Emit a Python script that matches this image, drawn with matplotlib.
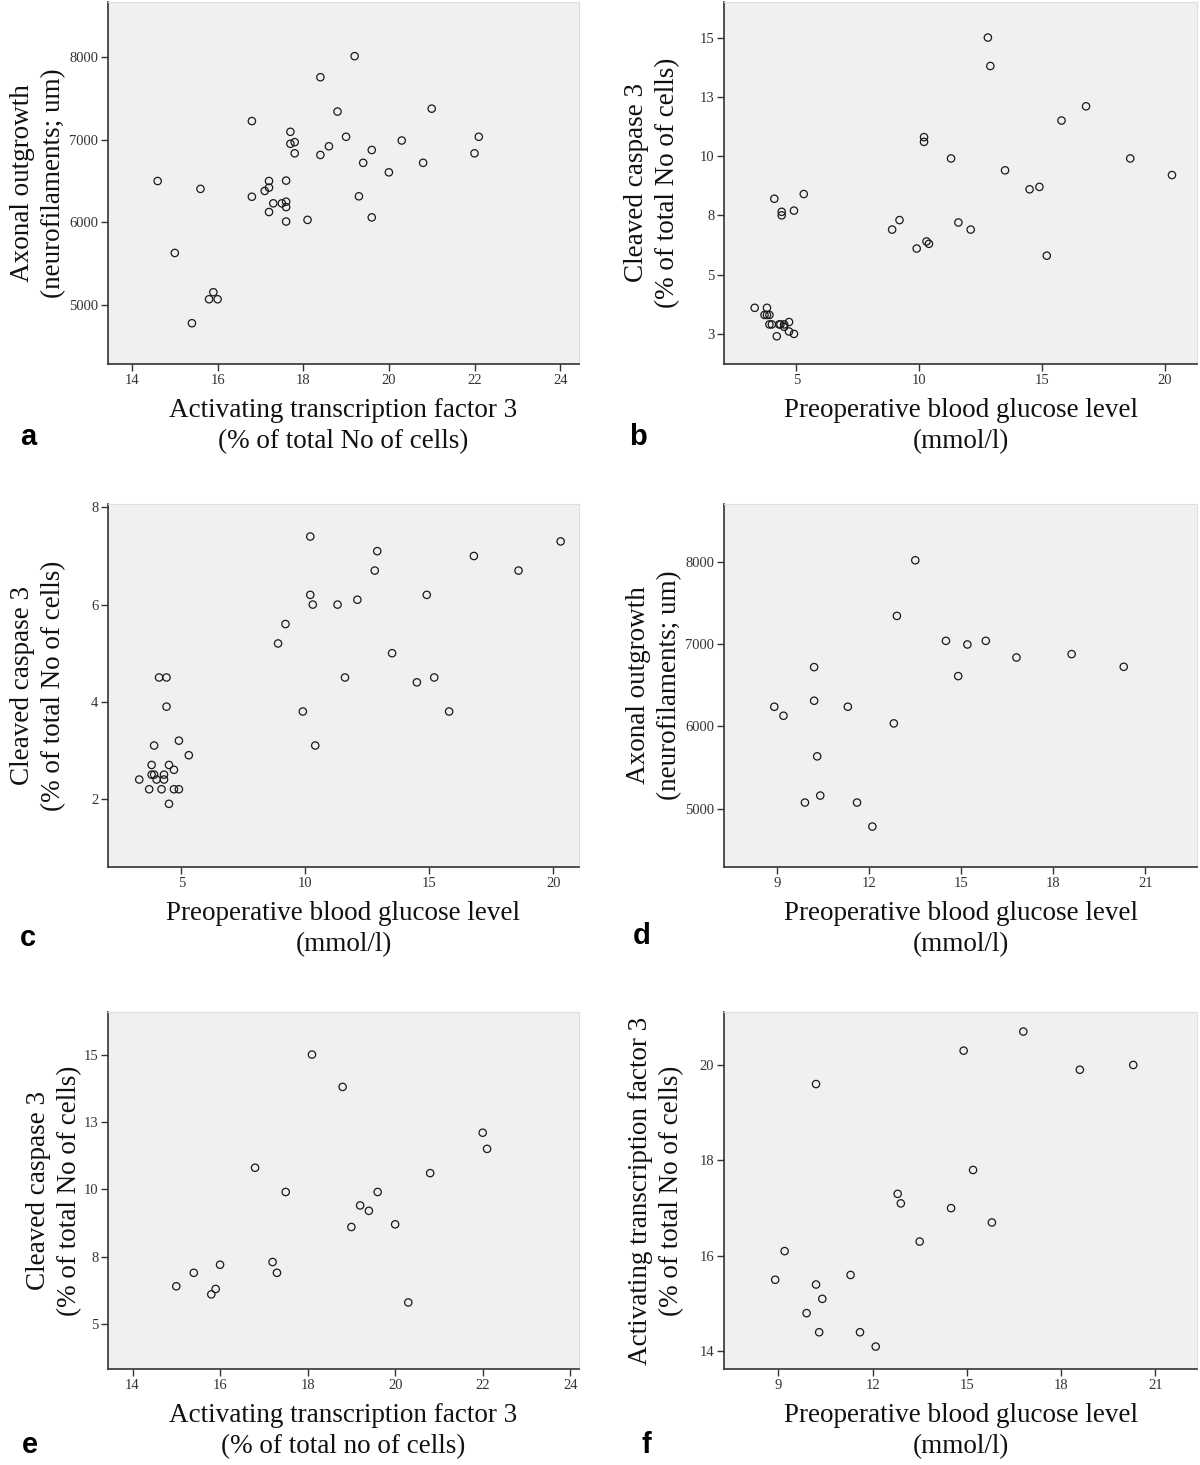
import matplotlib
matplotlib.use("Agg")
import matplotlib.pyplot as plt

# ---------------- data ----------------
# panel a: ATF3 (% of cells) vs axonal outgrowth
atf3_a = [14.6, 15.0, 15.6, 15.4, 15.9, 15.8, 16.0, 16.8, 16.8, 17.1,
          17.2, 17.2, 17.3, 17.2, 17.5, 17.6, 17.6, 17.6, 17.6, 17.7,
          17.7, 17.8, 17.8, 18.1, 18.4, 18.4, 18.6, 18.8, 19.0, 19.2,
          19.3, 19.4, 19.6, 19.6, 20.0, 20.3, 20.8, 21.0, 22.0, 22.1]
axonal_a = [6500, 5630, 6405, 4780, 5155, 5070, 5070, 7225, 6310, 6380,
            6500, 6420, 6230, 6125, 6230, 6505, 6250, 6185, 6010, 7095,
            6950, 6970, 6835, 6030, 7755, 6815, 6920, 7340, 7035, 8010,
            6315, 6720, 6875, 6060, 6605, 6990, 6720, 7375, 6835, 7035]

# panel b: glucose vs cleaved caspase 3
glucose_b = [3.3, 3.8, 3.7, 3.8, 3.9, 3.9, 4.0, 4.3, 4.35, 4.5,
             4.5, 4.7, 4.7, 4.2, 4.9, 4.1, 4.4, 4.4, 4.9, 5.3,
             8.9, 9.2, 9.9, 10.2, 10.2, 10.3, 10.4, 11.3, 11.6, 12.1,
             12.8, 12.9, 13.5, 14.5, 14.9, 15.2, 15.8, 16.8, 18.6, 20.3]
caspase_b = [3.6, 3.6, 3.3, 3.3, 3.3, 2.9, 2.9, 2.9, 2.9, 2.9,
             2.8, 3.0, 2.6, 2.4, 2.5, 8.2, 7.65, 7.5, 7.7, 8.4,
             6.9, 7.3, 6.1, 10.8, 10.6, 6.4, 6.3, 9.9, 7.2, 6.9,
             15.0, 13.8, 9.4, 8.6, 8.7, 5.8, 11.5, 12.1, 9.9, 9.2]

# panel c: glucose vs cleaved caspase 3
glucose_c = [3.3, 3.7, 3.8, 3.8, 3.9, 3.9, 4.0, 4.1, 4.2, 4.3,
             4.3, 4.4, 4.4, 4.5, 4.5, 4.7, 4.7, 4.9, 4.9, 5.3,
             8.9, 9.2, 9.9, 10.2, 10.2, 10.3, 10.4, 11.3, 11.6, 12.1,
             12.8, 12.9, 13.5, 14.5, 14.9, 15.2, 15.8, 16.8, 18.6, 20.3]
caspase_c = [2.4, 2.2, 2.7, 2.5, 3.1, 2.5, 2.4, 4.5, 2.2, 2.5,
             2.4, 4.5, 3.9, 2.7, 1.9, 2.6, 2.2, 2.2, 3.2, 2.9,
             5.2, 5.6, 3.8, 7.4, 6.2, 6.0, 3.1, 6.0, 4.5, 6.1,
             6.7, 7.1, 5.0, 4.4, 6.2, 4.5, 3.8, 7.0, 6.7, 7.3]

# panel d: glucose vs axonal outgrowth
glucose_d = [8.9, 9.2, 9.9, 10.2, 10.2, 10.3, 10.4, 11.3, 11.6, 12.1,
             12.8, 12.9, 13.5, 14.5, 14.9, 15.2, 15.8, 16.8, 18.6, 20.3]
axonal_d = [6238, 6129, 5075, 6719, 6311, 5636, 5160, 6238, 5075, 4784,
            6036, 7341, 8016, 7038, 6610, 6994, 7038, 6836, 6877, 6723]

# panel e: ATF3 vs cleaved caspase 3
atf3_e = [15.0, 15.4, 15.8, 15.9, 16.0, 16.8, 17.2, 17.3, 17.5, 18.1,
          18.8, 19.0, 19.2, 19.4, 19.6, 20.0, 20.3, 20.8, 22.0, 22.1]
caspase_e = [6.4, 6.9, 6.1, 6.3, 7.2, 10.8, 7.3, 6.9, 9.9, 15.0,
             13.8, 8.6, 9.4, 9.2, 9.9, 8.7, 5.8, 10.6, 12.1, 11.5]

# panel f: glucose vs ATF3
glucose_f = [8.9, 9.2, 9.9, 10.2, 10.2, 10.3, 10.4, 11.3, 11.6, 12.1,
             12.8, 12.9, 13.5, 14.5, 14.9, 15.2, 15.8, 16.8, 18.6, 20.3]
atf3_f = [15.5, 16.1, 14.8, 19.6, 15.4, 14.4, 15.1, 15.6, 14.4, 14.1,
          17.3, 17.1, 16.3, 17.0, 20.3, 17.8, 16.7, 20.7, 19.9, 20.0]

# ticks and labels
atf3_ticks = [14, 16, 18, 20, 22, 24]
glucose_ticks_bc = [5, 10, 15, 20]
glucose_ticks_df = [9, 12, 15, 18, 21]
axonal_ticks = [5000, 6000, 7000, 8000]
caspase_ticks_b = [2.5, 5, 7.5, 10, 12.5, 15]
caspase_labels_b = ["3", "5", "8", "10", "13", "15"]
caspase_ticks_c = [2, 4, 6, 8]
caspase_ticks_e = [5, 7.5, 10, 12.5, 15]
caspase_labels_e = ["5", "8", "10", "13", "15"]
atf3_ticks_f = [14, 16, 18, 20]

lab_atf3_x = "Activating transcription factor 3\n(% of total No of cells)"
lab_atf3_x_e = "Activating transcription factor 3\n(% of total no of cells)"
lab_glu = "Preoperative blood glucose level\n(mmol/l)"
lab_axon = "Axonal outgrowth\n(neurofilaments; um)"
lab_casp = "Cleaved caspase 3\n(% of total No of cells)"
lab_atf3_y = "Activating transcription factor 3\n(% of total No of cells)"

# ---------------- figure ----------------
W, H = 1200, 1465
fig = plt.figure(figsize=(W / 100, H / 100), dpi=100)
fig.patch.set_facecolor("white")

SERIF = "Liberation Serif"
TICK_FS = 10.5
LAB_FS = 19.5
LSP = 1.3


def make_ax(box, x, y, xlim, ylim, xticks, yticks, xlabel, ylabel,
            ylab_gap=42, yticklabels=None):
    l, t, r, b = box
    ax = fig.add_axes([l / W, 1 - b / H, (r - l) / W, (b - t) / H])
    ax.set_facecolor("#f0f0f0")
    ax.scatter(x, y, s=28, facecolors="none", edgecolors="#1a1a1a",
               linewidths=0.9, zorder=3)
    ax.set_xlim(*xlim)
    ax.set_ylim(*ylim)
    ax.set_xticks(xticks)
    ax.set_yticks(yticks)
    if yticklabels is not None:
        ax.set_yticklabels(yticklabels)
    for side in ("top", "right"):
        ax.spines[side].set_color("#dedede")
        ax.spines[side].set_linewidth(0.8)
    for side in ("left", "bottom"):
        ax.spines[side].set_color("#333333")
        ax.spines[side].set_linewidth(1.2)
    ax.tick_params(axis="both", direction="out", length=5, width=1.0,
                   color="#333333", labelcolor="#333333", labelsize=TICK_FS,
                   pad=2)
    for lbl in ax.get_xticklabels() + ax.get_yticklabels():
        lbl.set_fontfamily(SERIF)
    ax.set_xlabel(xlabel, fontsize=LAB_FS, family=SERIF, color="#111111",
                  linespacing=LSP)
    ax.set_ylabel(ylabel, fontsize=LAB_FS, family=SERIF, color="#111111",
                  linespacing=LSP)
    ax.xaxis.set_label_coords(0.5, -34 / (b - t))
    ax.yaxis.set_label_coords(-ylab_gap / (r - l), 0.5)
    return ax


LC = (108, 579)
RC = (724, 1197)
R1 = (2, 364)
R2 = (504, 867)
R3 = (1012, 1369)

make_ax((LC[0], R1[0], LC[1], R1[1]), atf3_a, axonal_a,
        (13.44, 24.44), (4287, 8665), atf3_ticks, axonal_ticks,
        lab_atf3_x, lab_axon)
make_ax((RC[0], R1[0], RC[1], R1[1]), glucose_b, caspase_b,
        (2.05, 21.32), (1.23, 16.5), glucose_ticks_bc, caspase_ticks_b,
        lab_glu, lab_casp, ylab_gap=44, yticklabels=caspase_labels_b)
make_ax((LC[0], R2[0], LC[1], R2[1]), glucose_c, caspase_c,
        (2.04, 21.04), (0.6, 8.07), glucose_ticks_bc, caspase_ticks_c,
        lab_glu, lab_casp)
make_ax((RC[0], R2[0], RC[1], R2[1]), glucose_d, axonal_d,
        (7.26, 22.69), (4293, 8699), glucose_ticks_df, axonal_ticks,
        lab_glu, lab_axon)
make_ax((LC[0], R3[0], LC[1], R3[1]), atf3_e, caspase_e,
        (13.44, 24.2), (3.33, 16.58), atf3_ticks, caspase_ticks_e,
        lab_atf3_x_e, lab_casp, ylab_gap=26, yticklabels=caspase_labels_e)
make_ax((RC[0], R3[0], RC[1], R3[1]), glucose_f, atf3_f,
        (7.27, 22.33), (13.63, 21.11), glucose_ticks_df, atf3_ticks_f,
        lab_glu, lab_atf3_y, ylab_gap=40)

letters = [("a", 28, 437), ("b", 638, 437), ("c", 28, 938),
           ("d", 642, 936), ("e", 30, 1445), ("f", 646, 1445)]
for ch, px, py in letters:
    fig.text(px / W, 1 - py / H, ch, fontsize=21, fontweight="bold",
             family="Liberation Sans", ha="center", va="center")

fig.savefig("out.png", dpi=100, facecolor="white")
